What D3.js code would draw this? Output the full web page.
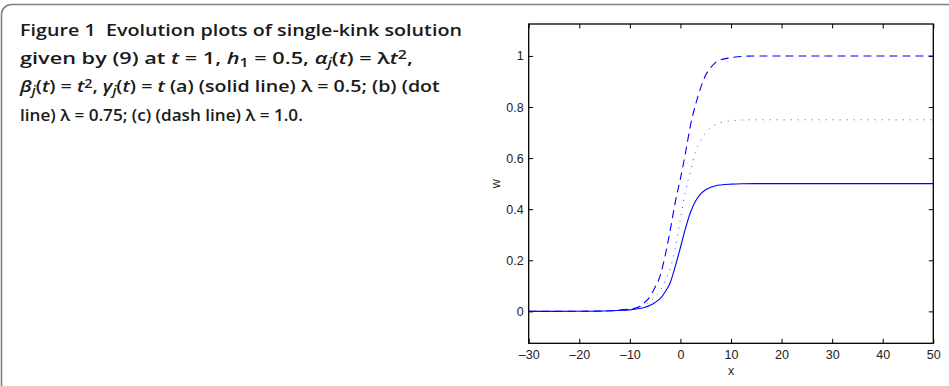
<!DOCTYPE html>
<html>
<head>
<meta charset="utf-8">
<script src="https://cdn.jsdelivr.net/npm/d3@7"></script>
<style>
  body { margin: 0; background: #fff; }
  svg { display: block; }
</style>
</head>
<body>
<svg class="figure" width="949" height="386"></svg>
<script>
const xValues = [-30, -20, -15, -12, -10, -9, -8, -7, -6, -5, -4, -3, -2, -1, 0, 1, 2, 3, 4, 5, 6, 7, 8, 10, 12, 15, 20, 30, 40, 50];

// (a) solid line, lambda = 0.5
const solidW = [0, 0.0003, 0.0015, 0.004, 0.006, 0.008, 0.011, 0.016, 0.024, 0.035, 0.05, 0.077, 0.113, 0.178, 0.25, 0.325, 0.388, 0.432, 0.46, 0.476, 0.486, 0.492, 0.495, 0.498, 0.4995, 0.5, 0.5, 0.5, 0.5, 0.5];
// (b) dot line, lambda = 0.75
const dotW = [0, 0.0004, 0.002, 0.005, 0.009, 0.013, 0.018, 0.026, 0.038, 0.057, 0.082, 0.12, 0.17, 0.25, 0.36, 0.47, 0.55, 0.625, 0.668, 0.7, 0.72, 0.732, 0.739, 0.746, 0.749, 0.75, 0.75, 0.75, 0.75, 0.75];
// (c) dash line, lambda = 1.0
const dashW = [0, 0.0005, 0.002, 0.005, 0.009, 0.012, 0.02, 0.036, 0.058, 0.095, 0.14, 0.22, 0.32, 0.43, 0.52, 0.62, 0.73, 0.81, 0.875, 0.925, 0.955, 0.975, 0.985, 0.993, 0.998, 1, 1, 1, 1, 1];

const xTicks = [-30, -20, -10, 0, 10, 20, 30, 40, 50];
const yTicks = [0, 0.2, 0.4, 0.6, 0.8, 1];

// caption lines: [text, style]  style: n normal, i italic, sub, isub (italic subscript), sup
const captionLines = [
  [["Figure 1\u00a0\u00a0Evolution plots of single-kink solution", "n"]],
  [["given by (9) at ", "n"], ["t", "i"], [" = 1, ", "n"], ["h", "i"], ["1", "sub"], [" = 0.5, ", "n"],
   ["α", "i"], ["j", "isub"], ["(", "n"], ["t", "i"], [") = λ", "n"], ["t", "i"], ["2", "sup"], [",", "n"]],
  [["β", "i"], ["j", "isub"], ["(", "n"], ["t", "i"], [") = ", "n"], ["t", "i"], ["2", "sup"], [", ", "n"],
   ["γ", "i"], ["j", "isub"], ["(", "n"], ["t", "i"], [") = ", "n"], ["t", "i"], [" (a) (solid line) λ = 0.5; (b) (dot", "n"]],
  [["line) λ = 0.75; (c) (dash line) λ = 1.0.", "n"]]
];

class KinkFigure {

  constructor(selector){
    this.svg = d3.select(selector);
  }

  draw(){
    this.drawFrame();
    this.drawCaption();
    this.drawPlot();
  }

  drawFrame(){
    this.svg.append("rect")
      .attr("x", 1.5).attr("y", 4.5)
      .attr("width", 1000).attr("height", 420)
      .attr("rx", 10)
      .attr("fill", "none")
      .attr("stroke", "#808080")
      .attr("stroke-width", 1.6);
  }

  drawCaption(){
    const startX = 20;
    const baselines = [35.7, 64, 92.3, 120.7];
    const targetEnds = [462, 413, 442, 303];

    captionLines.forEach((segs, i) => {
      const g = this.svg.append("g");
      const text = g.append("text")
        .attr("x", 0).attr("y", 0)
        .style("font-family", "'Open Sans', 'Noto Sans', sans-serif")
        .style("font-weight", 600)
        .style("font-size", "16.4px")
        .attr("fill", "#1a1a1a");

      for(let [str, kind] of segs){
        const t = text.append("tspan").text(str);
        if(kind === "i" || kind === "isub") t.style("font-style", "italic");
        if(kind === "sub" || kind === "isub"){
          t.attr("baseline-shift", "-25%").style("font-size", "12px");
        }
        if(kind === "sup"){
          t.attr("baseline-shift", "40%").style("font-size", "12px");
        }
      }

      // squeeze each line to the width it has in the picture
      const w = text.node().getBBox().width;
      const sx = (targetEnds[i] - startX) / w;
      g.attr("transform", `translate(${startX}, ${baselines[i]}) scale(${sx}, 1)`);
    });
  }

  drawPlot(){
    const left = 528.7, right = 933.3, top = 24, bottom = 343.3;

    const x = d3.scaleLinear().domain([-30, 50]).range([left, right]);
    const y = d3.scaleLinear().domain([-0.125, 1.125]).range([bottom, top]);

    const fmt = d => (d < 0 ? "\u2013" + Math.abs(d) : d3.format("")(d));
    const tickFont = g => g.selectAll("text")
      .style("font-family", "'Liberation Sans', Arial, sans-serif")
      .style("font-size", "12.5px")
      .attr("fill", "#222");

    const tickLen = 4.5;

    // bottom & top axes (ticks pointing inward)
    this.svg.append("g")
      .attr("transform", `translate(0, ${bottom})`)
      .call(d3.axisBottom(x).tickValues(xTicks).tickFormat(fmt).tickSizeInner(-tickLen).tickSizeOuter(0).tickPadding(6.5))
      .call(g => g.select(".domain").remove())
      .call(tickFont);

    this.svg.append("g")
      .attr("transform", `translate(0, ${top})`)
      .call(d3.axisTop(x).tickValues(xTicks).tickFormat("").tickSizeInner(-tickLen).tickSizeOuter(0))
      .call(g => g.select(".domain").remove());

    // left & right axes
    this.svg.append("g")
      .attr("transform", `translate(${left}, 0)`)
      .call(d3.axisLeft(y).tickValues(yTicks).tickFormat(d3.format("")).tickSizeInner(-tickLen).tickSizeOuter(0).tickPadding(5))
      .call(g => g.select(".domain").remove())
      .call(tickFont);

    this.svg.append("g")
      .attr("transform", `translate(${right}, 0)`)
      .call(d3.axisRight(y).tickValues(yTicks).tickFormat("").tickSizeInner(-tickLen).tickSizeOuter(0))
      .call(g => g.select(".domain").remove());

    this.svg.selectAll(".tick line").attr("stroke", "#000").attr("stroke-width", 1);

    // curves
    this.svg.append("clipPath").attr("id", "plotClip")
      .append("rect").attr("x", left).attr("y", top).attr("width", right - left).attr("height", bottom - top);

    const line = d3.line()
      .x(d => x(d[0]))
      .y(d => y(d[1]))
      .curve(d3.curveMonotoneX);

    const series = [
      {values: solidW, dash: null, color: "#0000ff", width: 1.1},
      {values: dotW, dash: "1,6", color: "#4848ff", width: 1},
      {values: dashW, dash: "8,5", color: "#0000ff", width: 1.1}
    ];

    this.svg.append("g")
      .attr("clip-path", "url(#plotClip)")
      .selectAll("path")
      .data(series)
      .join("path")
      .attr("d", s => line(xValues.map((xv, i) => [xv, s.values[i]])))
      .attr("fill", "none")
      .attr("stroke", s => s.color)
      .attr("stroke-width", s => s.width)
      .attr("stroke-dasharray", s => s.dash);

    // box
    this.svg.append("rect")
      .attr("x", left).attr("y", top)
      .attr("width", right - left).attr("height", bottom - top)
      .attr("fill", "none")
      .attr("stroke", "#000")
      .attr("stroke-width", 1.3);

    // axis labels
    this.svg.append("text")
      .attr("x", (left + right) / 2).attr("y", 375)
      .attr("text-anchor", "middle")
      .style("font-family", "'Liberation Sans', Arial, sans-serif")
      .style("font-size", "12.5px")
      .attr("fill", "#222")
      .text("x");

    this.svg.append("text")
      .attr("transform", `translate(500, ${(top + bottom) / 2}) rotate(-90)`)
      .attr("text-anchor", "middle")
      .style("font-family", "'Liberation Sans', Arial, sans-serif")
      .style("font-size", "12.5px")
      .attr("fill", "#222")
      .text("w");
  }
}

new KinkFigure(".figure").draw();
</script>
</body>
</html>
